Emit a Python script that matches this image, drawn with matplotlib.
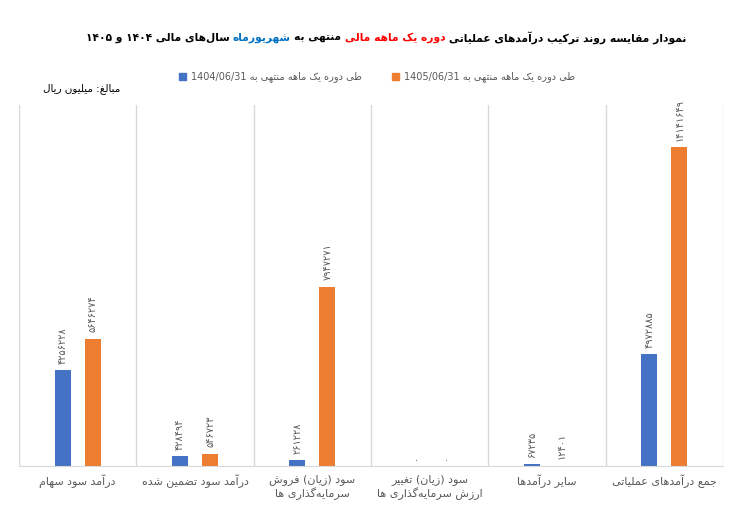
import re
import numpy as np
import matplotlib
matplotlib.use("Agg")
import matplotlib.pyplot as plt
from matplotlib.patches import Patch

# data (values in million rials)
categories = [
    "درآمد سود سهام",
    "درآمد سود تضمین شده",
    "سود (زیان) فروش\nسرمایه‌گذاری ها",
    "سود (زیان) تغییر\nارزش سرمایه‌گذاری ها",
    "سایر درآمدها",
    "جمع درآمدهای عملیاتی",
]
values_1404 = [4256228, 428494, 261228, 0, 67235, 4972885]
values_1405 = [5646274, 546723, 7947271, 0, 12401, 14141649]
series_names = [
    "طی دوره یک ماهه منتهی به 1404/06/31",
    "طی دوره یک ماهه منتهی به 1405/06/31",
]
title_parts = [
    ("نمودار مقایسه روند ترکیب درآمدهای عملیاتی", "black"),
    ("دوره یک ماهه مالی", "#FF0000"),
    ("منتهی به", "black"),
    ("شهریورماه", "#0070C0"),
    ("سال‌های مالی ۱۴۰۴ و ۱۴۰۵", "black"),
]
unit_text = "مبالغ: میلیون ریال"

# --- minimal persian shaping + rtl ordering (matplotlib has none) ---
FORMS = {
    "ا": (0xFE8D, 0xFE8E), "آ": (0xFE81, 0xFE82), "د": (0xFEA9, 0xFEAA),
    "ذ": (0xFEAB, 0xFEAC), "ر": (0xFEAD, 0xFEAE), "ز": (0xFEAF, 0xFEB0),
    "ژ": (0xFB8A, 0xFB8B), "و": (0xFEED, 0xFEEE),
    "ب": (0xFE8F, 0xFE90, 0xFE91, 0xFE92), "ت": (0xFE95, 0xFE96, 0xFE97, 0xFE98),
    "ث": (0xFE99, 0xFE9A, 0xFE9B, 0xFE9C), "ج": (0xFE9D, 0xFE9E, 0xFE9F, 0xFEA0),
    "ح": (0xFEA1, 0xFEA2, 0xFEA3, 0xFEA4), "خ": (0xFEA5, 0xFEA6, 0xFEA7, 0xFEA8),
    "س": (0xFEB1, 0xFEB2, 0xFEB3, 0xFEB4), "ش": (0xFEB5, 0xFEB6, 0xFEB7, 0xFEB8),
    "ص": (0xFEB9, 0xFEBA, 0xFEBB, 0xFEBC), "ض": (0xFEBD, 0xFEBE, 0xFEBF, 0xFEC0),
    "ط": (0xFEC1, 0xFEC2, 0xFEC3, 0xFEC4), "ظ": (0xFEC5, 0xFEC6, 0xFEC7, 0xFEC8),
    "ع": (0xFEC9, 0xFECA, 0xFECB, 0xFECC), "غ": (0xFECD, 0xFECE, 0xFECF, 0xFED0),
    "ف": (0xFED1, 0xFED2, 0xFED3, 0xFED4), "ق": (0xFED5, 0xFED6, 0xFED7, 0xFED8),
    "ل": (0xFEDD, 0xFEDE, 0xFEDF, 0xFEE0), "م": (0xFEE1, 0xFEE2, 0xFEE3, 0xFEE4),
    "ن": (0xFEE5, 0xFEE6, 0xFEE7, 0xFEE8), "ه": (0xFEE9, 0xFEEA, 0xFEEB, 0xFEEC),
    "ی": (0xFBFC, 0xFBFD, 0xFBFE, 0xFBFF), "ک": (0xFB8E, 0xFB8F, 0xFB90, 0xFB91),
    "گ": (0xFB92, 0xFB93, 0xFB94, 0xFB95), "پ": (0xFB56, 0xFB57, 0xFB58, 0xFB59),
    "چ": (0xFB7A, 0xFB7B, 0xFB7C, 0xFB7D),
}
MIRROR = {"(": ")", ")": "("}


def shape(text):
    out = []
    for i, c in enumerate(text):
        if c not in FORMS:
            out.append(c)
            continue
        f = FORMS[c]
        prev = text[i - 1] if i > 0 else ""
        nxt = text[i + 1] if i < len(text) - 1 else ""
        jp = prev in FORMS and len(FORMS[prev]) == 4
        jn = len(f) == 4 and nxt in FORMS
        k = 3 if (jp and jn) else 1 if jp else 2 if jn else 0
        out.append(chr(f[k]))
    return "".join(out)


def rtl(text):
    lines = []
    for line in text.split("\n"):
        s = shape(line).replace("\u200c", "")
        runs = re.split(r"([0-9۰-۹]+(?:[/.,][0-9۰-۹]+)*)", s)
        vis = []
        for r in reversed(runs):
            if re.fullmatch(r"[0-9۰-۹/.,]+", r or "x"):
                vis.append(r)
            else:
                vis.append("".join(MIRROR.get(ch, ch) for ch in reversed(r)))
        lines.append("".join(vis))
    return "\n".join(lines)


def fa(n):
    return str(n).translate(str.maketrans("0123456789", "۰۱۲۳۴۵۶۷۸۹"))


plt.rcParams["font.family"] = ["DejaVu Sans"]

W, H = 753, 512
fig = plt.figure(figsize=(W / 100, H / 100), dpi=100)
ax = fig.add_axes([19 / W, 46 / H, 704 / W, 361 / H])

blue = "#4472C4"
orange = "#ED7D31"
grey = "#595959"

x = np.arange(len(categories))
bw = 0.136
off = 0.128
b1 = ax.bar(x - off, values_1404, bw, color=blue)
b2 = ax.bar(x + off, values_1405, bw, color=orange)

for bars, vals in [(b1, values_1404), (b2, values_1405)]:
    for rect, v in zip(bars, vals):
        ax.annotate(fa(v), (rect.get_x() + rect.get_width() / 2, v),
                    xytext=(0, 4.5), textcoords="offset points",
                    rotation=90, ha="center", va="bottom",
                    fontsize=7, color=grey)

ax.set_xlim(-0.5, len(categories) - 0.5)
ax.set_ylim(0, 16000000)
ax.set_yticks([])
for s in ["top", "left", "right"]:
    ax.spines[s].set_visible(False)
ax.spines["bottom"].set_color("#d9d9d9")
ax.set_xticks(np.arange(-0.5, len(categories), 1), minor=True)
ax.grid(which="minor", axis="x", color="#d9d9d9", lw=1)
ax.set_xticks(x)
ax.set_xticklabels([rtl(c) for c in categories], fontsize=8, color=grey,
                   linespacing=1.2)
ax.tick_params(which="both", length=0, pad=6)

# legend
handles = [Patch(color=blue), Patch(color=orange)]
fig.legend(handles, [rtl(s) for s in series_names], ncol=2, frameon=False,
           loc="center", bbox_to_anchor=(377 / W, 1 - 77 / H),
           fontsize=7, labelcolor=grey, handlelength=0.7, handleheight=0.7,
           handletextpad=0.5, columnspacing=3.2)

fig.text(120 / W, 1 - 89 / H, rtl(unit_text), ha="right", va="center",
         fontsize=7.5, color="black")

# multi-coloured rtl title, laid out right to left, fitted to 89..686 px
renderer = fig.canvas.get_renderer()


def draw_title(fs):
    gap = 0.32 * fs * 100 / 72
    xr = 686
    items = []
    for txt, col in title_parts:
        t = fig.text(xr / W, 1 - 38 / H, rtl(txt), ha="right", va="center",
                     fontsize=fs, fontweight="bold", color=col)
        bb = t.get_window_extent(renderer)
        xr = bb.x0 - gap
        items.append(t)
    return items, 686 - (xr + gap)


items, width = draw_title(10)
for t in items:
    t.remove()
draw_title(10 * 597 / width)

fig.savefig("out.png", dpi=100)
